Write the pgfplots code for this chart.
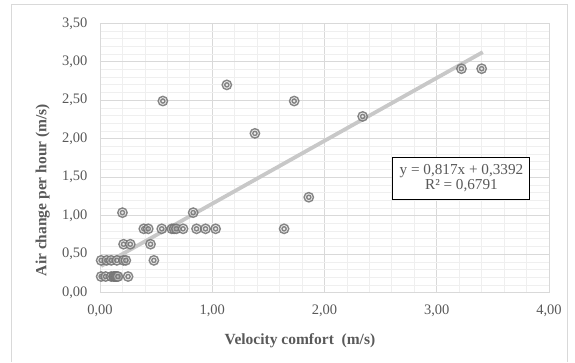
\documentclass[border=0pt]{standalone}
\usepackage{pgfplots}
\pgfplotsset{compat=1.18}
\usepackage{fontspec}
\setmainfont{Liberation Serif}
\definecolor{txt}{HTML}{595959}
\definecolor{mk}{HTML}{727272}
\definecolor{trend}{HTML}{C8C8C8}
\definecolor{gmaj}{HTML}{D9D9D9}
\definecolor{gmin}{HTML}{EFEFEF}
\pgfdeclareplotmark{dring}{%
  \pgfpathcircle{\pgfpoint{0pt}{0pt}}{4.7pt}%
  \pgfusepath{fill,stroke}%
  \pgfpathcircle{\pgfpoint{0pt}{0pt}}{2.1pt}%
  \pgfusepath{stroke}}
\pgfplotstableread{
x y
0.01 0.21
0.05 0.21
0.10 0.21
0.12 0.21
0.13 0.21
0.14 0.21
0.15 0.21
0.16 0.21
0.25 0.21
0.01 0.42
0.06 0.42
0.10 0.42
0.15 0.42
0.21 0.42
0.23 0.42
0.48 0.42
0.21 0.63
0.27 0.63
0.45 0.63
0.39 0.83
0.43 0.83
0.55 0.83
0.64 0.83
0.66 0.83
0.68 0.83
0.74 0.83
0.86 0.83
0.94 0.83
1.03 0.83
1.64 0.83
0.20 1.04
0.83 1.04
1.86 1.24
1.38 2.07
2.34 2.29
0.56 2.49
1.73 2.49
1.13 2.70
3.22 2.91
3.40 2.91
}\datatable
\begin{document}
\begin{tikzpicture}[x=1pt,y=1pt]
\path[use as bounding box] (0,0) rectangle (575,362);
\draw[gmaj, line width=1pt] (11.5,0) -- (11.5,357) -- (567,357) -- (567,0);
\begin{axis}[
  at={(100pt,69.3pt)}, anchor=south west,
  scale only axis, width=449pt, height=269.4pt,
  xmin=0, xmax=4, ymin=0, ymax=3.5,
  xtick={0,1,2,3,4}, ytick={0,0.5,1,1.5,2,2.5,3,3.5},
  minor x tick num=4, minor y tick num=4,
  grid=both,
  major grid style={gmaj, line width=0.9pt},
  minor grid style={gmin, line width=0.8pt},
  axis line style={gmaj, line width=0.9pt},
  major tick length=0pt, minor tick length=0pt,
  tick label style={font=\fontsize{14.5}{17}\selectfont, text=txt},
  /pgf/number format/assume math mode=true,
  /pgf/number format/.cd, fixed, fixed zerofill, precision=2, use comma, /pgfplots/.cd,
  yticklabel style={xshift=-9pt},
  xticklabel style={yshift=-8.5pt},
  xlabel={Velocity comfort\ \ (m/s)},
  ylabel={Air change per hour (m/s)},
  label style={font=\bfseries\fontsize{15.5}{18}\selectfont, text=txt},
  xlabel style={at={(axis description cs:0.4454,-0.178)}, anchor=center},
  ylabel style={at={(axis description cs:-0.1276,0.381)}, anchor=center},
  clip=false,
]
\addplot[trend, line width=3.8pt, no markers] coordinates {(0.01,0.3474) (3.41,3.1252)};
\addplot[only marks, mark=dring, mark options={draw=mk, line width=1.4pt, fill=gray!25, fill opacity=0.5, draw opacity=0.85}] table[x=x,y=y] {\datatable};
\node[draw=black, line width=1pt, fill=white, text=txt, align=center, minimum width=137pt, minimum height=42pt, inner sep=2pt, font=\fontsize{15.2}{14.5}\selectfont] at (axis cs:3.22,1.487) {y = 0,817x + 0,3392\\R² = 0,6791};
\end{axis}
\end{tikzpicture}
\end{document}
